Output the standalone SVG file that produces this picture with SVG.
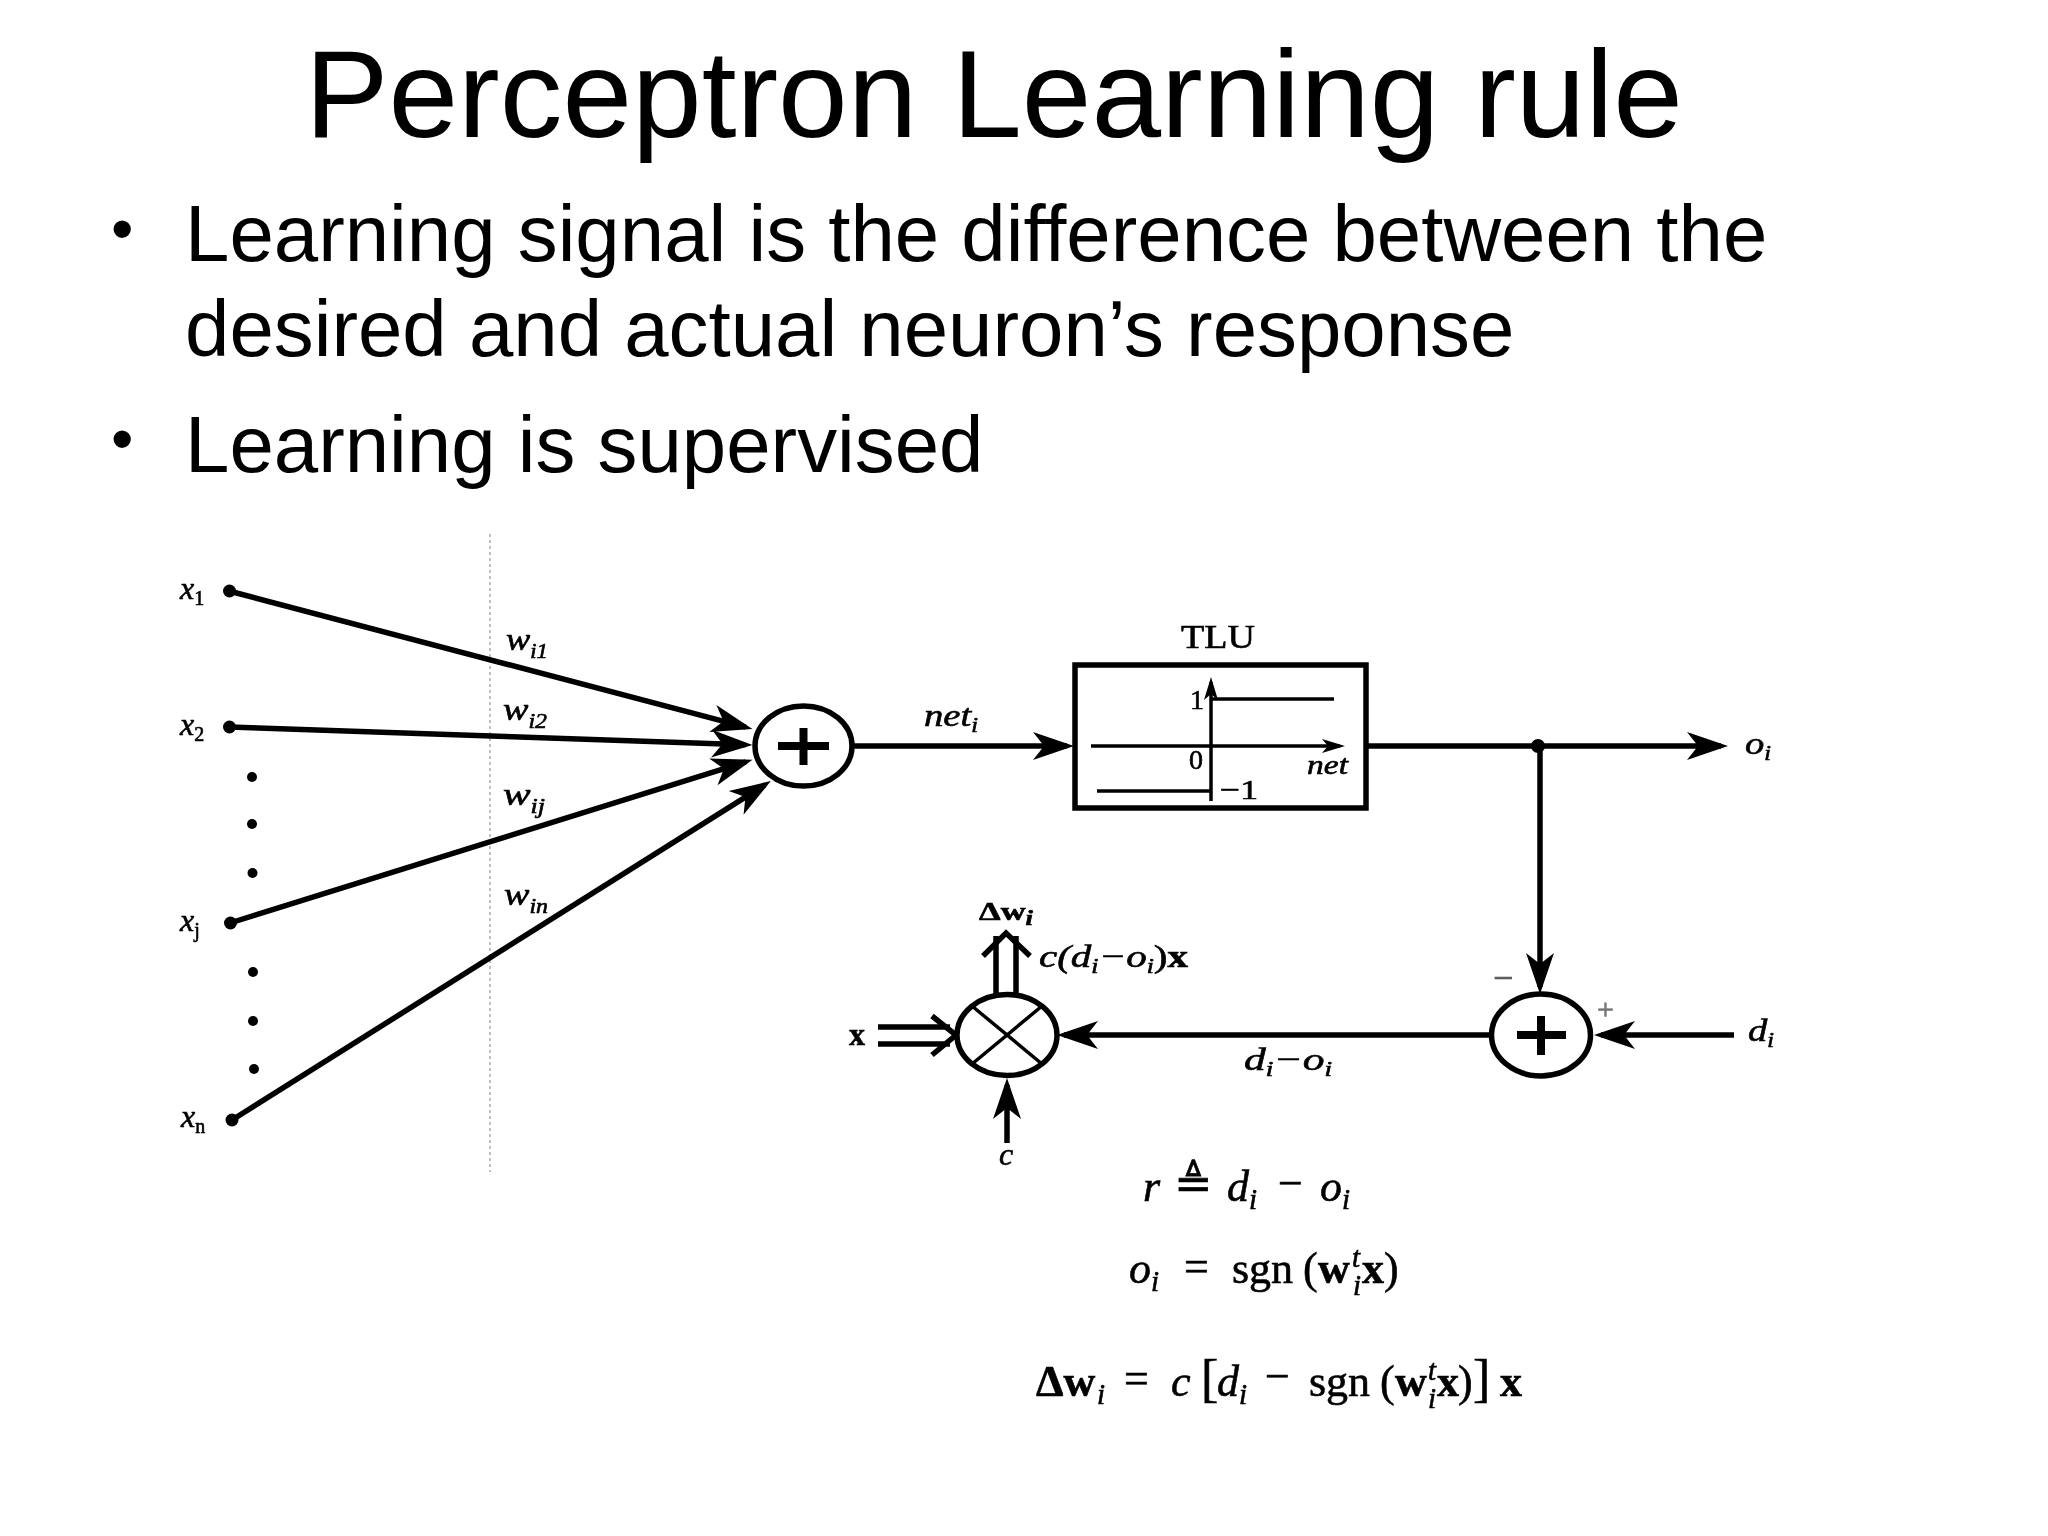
<svg xmlns="http://www.w3.org/2000/svg" width="2048" height="1536" viewBox="0 0 2048 1536">
<style>
.title{font:125.2px "Liberation Sans",Arial,sans-serif;fill:#000}
.body{font:79.8px "Liberation Sans",Arial,sans-serif;fill:#000;font-variant-ligatures:none}
.bul{font:64px "Liberation Sans",Arial,sans-serif;fill:#000}
.s{font-family:"Liberation Serif","Times New Roman",serif;fill:#000;stroke:#000;stroke-width:.6}
.i{font-style:italic}
.b{font-weight:bold}
.l{font-size:32px}
.sub{font-size:20px}
.eq{font-size:44px}
.es{font-size:29px}
.ln{fill:none;stroke:#000;stroke-width:5.5}
.th{fill:none;stroke:#000;stroke-width:3.5}
.nd{fill:#fff;stroke:#000;stroke-width:5.5}
.pl{fill:none;stroke:#000;stroke-width:8}
.dot{fill:#000}
</style>
<defs>
<marker id="ah" markerUnits="userSpaceOnUse" markerWidth="44" markerHeight="30" viewBox="0 0 44 30" refX="34" refY="15" orient="auto"><path d="M41,15 L0,1 L11,15 L0,29 Z" fill="#000"/></marker>
<marker id="as" markerUnits="userSpaceOnUse" markerWidth="24" markerHeight="16" viewBox="0 0 24 16" refX="18" refY="8" orient="auto"><path d="M23,8 L0,1 L6,8 L0,15 Z" fill="#000"/></marker>
<filter id="scan" x="0" y="0" width="2048" height="1536" filterUnits="userSpaceOnUse"><feGaussianBlur stdDeviation="0.7"/></filter>
</defs>
<rect width="2048" height="1536" fill="#fff"/>
<g id="heading">
<text class="title" x="305" y="137">Perceptron Learning rule</text>
<text class="bul" x="111" y="251">•</text>
<text class="body" x="185" y="261">Learning signal is the difference between the</text>
<text class="body" x="185" y="356">desired and actual neuron’s response</text>
<text class="bul" x="111" y="461">•</text>
<text class="body" x="185" y="472">Learning is supervised</text>
</g>
<g id="figure" filter="url(#scan)">
<line id="retina-guide" x1="490" y1="534" x2="490" y2="1172" stroke="#aaa" stroke-width="1.5" stroke-dasharray="3 3"/>
<g id="connectors">
<path class="ln" d="M229,591 L745.7,727.1" marker-end="url(#ah)"/>
<path class="ln" d="M229,727 L745.5,744.8" marker-end="url(#ah)"/>
<path class="ln" d="M230,923 L745.8,761.8" marker-end="url(#ah)"/>
<path class="ln" d="M232,1120 L764.9,784.8" marker-end="url(#ah)"/>
<path class="ln" d="M852,746 L1067,746" marker-end="url(#ah)"/>
<path class="ln" d="M1366,746 L1721,746" marker-end="url(#ah)"/>
<path class="ln" d="M1540,746 L1540,987" marker-end="url(#ah)"/>
<path class="ln" d="M1734,1035 L1601,1035" marker-end="url(#ah)"/>
<path class="ln" d="M1492,1035 L1064,1035" marker-end="url(#ah)"/>
<path class="ln" d="M1007,1143 L1007,1085" marker-end="url(#ah)"/>
<path class="ln" d="M878,1027 L950,1027 M878,1044 L950,1044"/>
<path class="ln" d="M932,1016 L956,1035 L932,1055"/>
<path class="ln" d="M996,996 L996,936 M1016,996 L1016,936"/>
<path class="ln" d="M983,956 L1006,933 L1030,956"/>
</g>
<g id="inputs">
<circle class="dot" cx="229.5" cy="591" r="6.5"/><circle class="dot" cx="229.5" cy="727" r="6.5"/><circle class="dot" cx="230.5" cy="923" r="6.5"/><circle class="dot" cx="232" cy="1120" r="6.5"/>
<circle class="dot" cx="252" cy="777" r="5"/><circle class="dot" cx="252" cy="824" r="5"/><circle class="dot" cx="252.5" cy="873" r="5"/><circle class="dot" cx="253" cy="972" r="5"/><circle class="dot" cx="253" cy="1021" r="5"/><circle class="dot" cx="254" cy="1069" r="5"/>
<text class="s i l" x="180" y="599">x<tspan class="sub" dy="6" font-style="normal">1</tspan></text>
<text class="s i l" x="180" y="735">x<tspan class="sub" dy="6" font-style="normal">2</tspan></text>
<text class="s i l" x="180" y="931">x<tspan class="sub" dy="6" font-style="normal">j</tspan></text>
<text class="s i l" x="181" y="1127">x<tspan class="sub" dy="6" font-style="normal">n</tspan></text>
<text class="s i l" x="506" y="650" textLength="42" lengthAdjust="spacingAndGlyphs">w<tspan class="sub" dy="8">i1</tspan></text>
<text class="s i l" x="503" y="720" textLength="44" lengthAdjust="spacingAndGlyphs">w<tspan class="sub" dy="8">i2</tspan></text>
<text class="s i l" x="503" y="805" textLength="42" lengthAdjust="spacingAndGlyphs">w<tspan class="sub" dy="8">ij</tspan></text>
<text class="s i l" x="504" y="905" textLength="44" lengthAdjust="spacingAndGlyphs">w<tspan class="sub" dy="8">in</tspan></text>
<text class="s i l" x="924" y="726" textLength="54" lengthAdjust="spacingAndGlyphs">net<tspan class="sub" dy="6">i</tspan></text>
</g>
<g id="sum-1">
<ellipse class="nd" cx="803.5" cy="746" rx="48.5" ry="40"/>
<path class="pl" d="M778,746 H829 M803.5,728 V765"/>
</g>
<g id="tlu">
<text class="s" font-size="34" x="1181" y="648" textLength="74" lengthAdjust="spacingAndGlyphs">TLU</text>
<rect x="1075" y="665" width="291" height="143" fill="#fff" stroke="#000" stroke-width="5.5"/>
<path class="th" d="M1211,801 V682" marker-end="url(#as)"/>
<path class="th" d="M1091,746 H1340" marker-end="url(#as)"/>
<path class="th" stroke-width="4.5" d="M1211,699 H1334 M1097,791 H1211"/>
<text class="s" x="1190" y="709" font-size="28">1</text>
<text class="s" x="1189" y="769" font-size="28">0</text>
<text class="s i" x="1307" y="774" font-size="28" textLength="41" lengthAdjust="spacingAndGlyphs">net</text>
<text class="s" x="1220" y="799" font-size="28" textLength="38" lengthAdjust="spacingAndGlyphs">−1</text>
</g>
<g id="junction"><circle class="dot" cx="1538" cy="746" r="7"/></g>
<g id="output-label"><text class="s i l" x="1745" y="754" textLength="26" lengthAdjust="spacingAndGlyphs">o<tspan class="sub" dy="6">i</tspan></text></g>
<g id="sum-2">
<ellipse class="nd" cx="1541" cy="1035" rx="49.5" ry="41"/>
<path class="pl" d="M1517,1035 H1566 M1541,1016 V1055"/>
<text class="s" x="1493" y="990" font-size="36" style="fill:#555;stroke:#555">−</text>
<text class="s" x="1597" y="1019" font-size="30" style="fill:#777;stroke:#777">+</text>
<text class="s i l" x="1748" y="1041" textLength="26" lengthAdjust="spacingAndGlyphs">d<tspan class="sub" dy="6">i</tspan></text>
<text class="s i l" x="1244" y="1070" textLength="88" lengthAdjust="spacingAndGlyphs">d<tspan class="sub" dy="6">i</tspan><tspan dy="-6">−o</tspan><tspan class="sub" dy="6">i</tspan></text>
</g>
<g id="multiplier">
<ellipse class="nd" cx="1007" cy="1035" rx="50" ry="40.5"/>
<path class="th" stroke-width="5.5" d="M972,1006 L1042,1064 M1042,1006 L972,1064"/>
<text class="s b l" x="849" y="1045">x</text>
<text class="s b" x="979" y="920" font-size="26" textLength="54" lengthAdjust="spacingAndGlyphs">Δw<tspan class="sub i" dy="5">i</tspan></text>
<text class="s i l" x="1039" y="967" textLength="149" lengthAdjust="spacingAndGlyphs">c(d<tspan class="sub" dy="6">i</tspan><tspan dy="-6">−o</tspan><tspan class="sub" dy="6">i</tspan><tspan dy="-6" font-style="normal">)</tspan><tspan class="b" font-style="normal">x</tspan></text>
<text class="s i l" x="999" y="1165">c</text>
</g>
<g id="equations">
<text class="s i eq" x="1143" y="1201">r</text>
<text class="s" style="font-family:'DejaVu Serif','DejaVu Sans',serif" x="1174" y="1199" font-size="46">≜</text>
<text class="s i eq" x="1227" y="1201">d<tspan class="es" dy="8">i</tspan></text>
<text class="s eq" x="1278" y="1198">−</text>
<text class="s i eq" x="1320" y="1201">o<tspan class="es" dy="8">i</tspan></text>

<text class="s i eq" x="1129" y="1283">o<tspan class="es" dy="8">i</tspan></text>
<text class="s eq" x="1184" y="1281">=</text>
<text class="s eq" x="1232" y="1283">sgn</text>
<text class="s eq" x="1303" y="1283">(</text>
<text class="s b eq" x="1318" y="1283">w</text>
<text class="s i es" x="1352" y="1267">t</text>
<text class="s i es" x="1353" y="1295">i</text>
<text class="s b eq" x="1362" y="1283">x</text>
<text class="s eq" x="1384" y="1283">)</text>

<text class="s b eq" x="1036" y="1396">Δw</text>
<text class="s i es" x="1097" y="1404">i</text>
<text class="s eq" x="1124" y="1393">=</text>
<text class="s i eq" x="1171" y="1396">c</text>
<text class="s" x="1201" y="1396" font-size="52">[</text>
<text class="s i eq" x="1217" y="1396">d<tspan class="es" dy="8">i</tspan></text>
<text class="s eq" x="1265" y="1391">−</text>
<text class="s eq" x="1309" y="1396">sgn</text>
<text class="s eq" x="1380" y="1396">(</text>
<text class="s b eq" x="1395" y="1396">w</text>
<text class="s i es" x="1428" y="1380">t</text>
<text class="s i es" x="1428" y="1408">i</text>
<text class="s b eq" x="1437" y="1396">x</text>
<text class="s eq" x="1458" y="1396">)</text>
<text class="s" x="1473" y="1396" font-size="52">]</text>
<text class="s b eq" x="1500" y="1396">x</text>
</g>
</g>
</svg>
